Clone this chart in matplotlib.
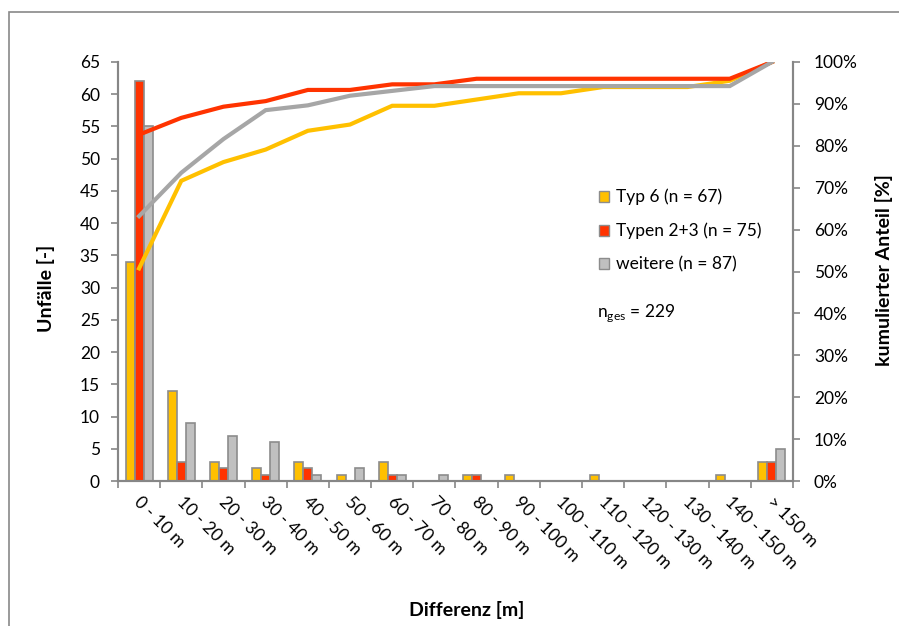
import numpy as np
import matplotlib.pyplot as plt
from matplotlib.patches import Rectangle, Patch

plt.rcParams['font.family'] = ['Lato', 'DejaVu Sans']

categories = ['0 - 10 m', '10 - 20 m', '20 - 30 m', '30 - 40 m', '40 - 50 m',
              '50 - 60 m', '60 - 70 m', '70 - 80 m', '80 - 90 m', '90 - 100 m',
              '100 - 110 m', '110 - 120 m', '120 - 130 m', '130 - 140 m',
              '140 - 150 m', '> 150 m']
typ6 = [34, 14, 3, 2, 3, 1, 3, 0, 1, 1, 0, 1, 0, 0, 1, 3]
typ23 = [62, 3, 2, 1, 2, 0, 1, 0, 1, 0, 0, 0, 0, 0, 0, 3]
weitere = [55, 9, 7, 6, 1, 2, 1, 1, 0, 0, 0, 0, 0, 0, 0, 5]
labels = ['Typ 6 (n = 67)', 'Typen 2+3 (n = 75)', 'weitere (n = 87)']

bar_colors = ['#FFC000', '#FF3300', '#C0C0C0']
line_colors = ['#FFC000', '#FF3300', '#A6A6A6']
axis_grey = '#868686'

series = [typ6, typ23, weitere]
x = np.arange(len(categories))
w = 0.213

fig = plt.figure(figsize=(8.99, 6.26), dpi=100)
ax = fig.add_axes([118 / 899, 1 - 481 / 626, 675 / 899, 419 / 626])
ax2 = ax.twinx()

for i, (vals, c) in enumerate(zip(series, bar_colors)):
    ax.bar(x + (i - 1) * w, vals, width=w, color=c, edgecolor='#8C8C8C',
           linewidth=1.2, zorder=2)

# cumulative share lines
zs = [3, 4, 5]
for vals, c, z in zip(series, line_colors, zs):
    cum = np.cumsum(vals) / np.sum(vals) * 100
    ax2.plot(x, cum, color=c, lw=3, zorder=z, solid_joinstyle='miter')

ax.set_xlim(-0.5, len(categories) - 0.5)
ax.set_ylim(0, 65)
ax.set_yticks(np.arange(0, 66, 5))
ax2.set_ylim(0, 100)
ax2.set_yticks(np.arange(0, 101, 10))
ax2.set_yticklabels([f'{v}%' for v in range(0, 101, 10)])

ax.set_xticks(np.arange(-0.5, len(categories), 1))
ax.set_xticklabels([])
for xi, lab in zip(x, categories):
    ax.text(xi - 0.05, -0.045, lab, transform=ax.get_xaxis_transform(),
            rotation=-45, rotation_mode='anchor', ha='left', va='center',
            fontsize=12.5)

for a in (ax, ax2):
    a.spines['top'].set_visible(False)
    for s in ('left', 'right', 'bottom'):
        a.spines[s].set_color(axis_grey)
        a.spines[s].set_linewidth(1.5)
    a.tick_params(colors=axis_grey, labelcolor='black', labelsize=12.5,
                  length=5, width=1.2)
ax.tick_params(axis='y', pad=8)
ax2.tick_params(axis='y', pad=10)

fig.text(46 / 899, 1 - 288 / 626, 'Unfälle [-]', rotation=90, ha='center',
         va='center', fontsize=14, fontweight='bold')
fig.text(884 / 899, 1 - 270 / 626, 'kumulierter Anteil [%]', rotation=90,
         ha='center', va='center', fontsize=14, fontweight='bold')
fig.text(467 / 899, 1 - 610 / 626, 'Differenz [m]', ha='center', va='center',
         fontsize=14, fontweight='bold')

handles = [Patch(facecolor=c, edgecolor='#8C8C8C', linewidth=1)
           for c in bar_colors]
fig.legend(handles, labels, loc='upper left',
           bbox_to_anchor=(590 / 899, 1 - 180 / 626), frameon=False,
           fontsize=12.5, handlelength=0.6, handleheight=0.6,
           handletextpad=0.4, labelspacing=1.0, borderpad=0)
fig.text(597 / 899, 1 - 313 / 626, r'n$_{\mathregular{ges}}$ = 229',
         ha='left', va='center', fontsize=12.5)

fig.patches.append(Rectangle((9 / 899, -0.1), 2, (626 - 12) / 626 + 0.1,
                             transform=fig.transFigure, fill=False,
                             edgecolor='#898989', linewidth=1.2))

fig.savefig('out.png', dpi=100)
